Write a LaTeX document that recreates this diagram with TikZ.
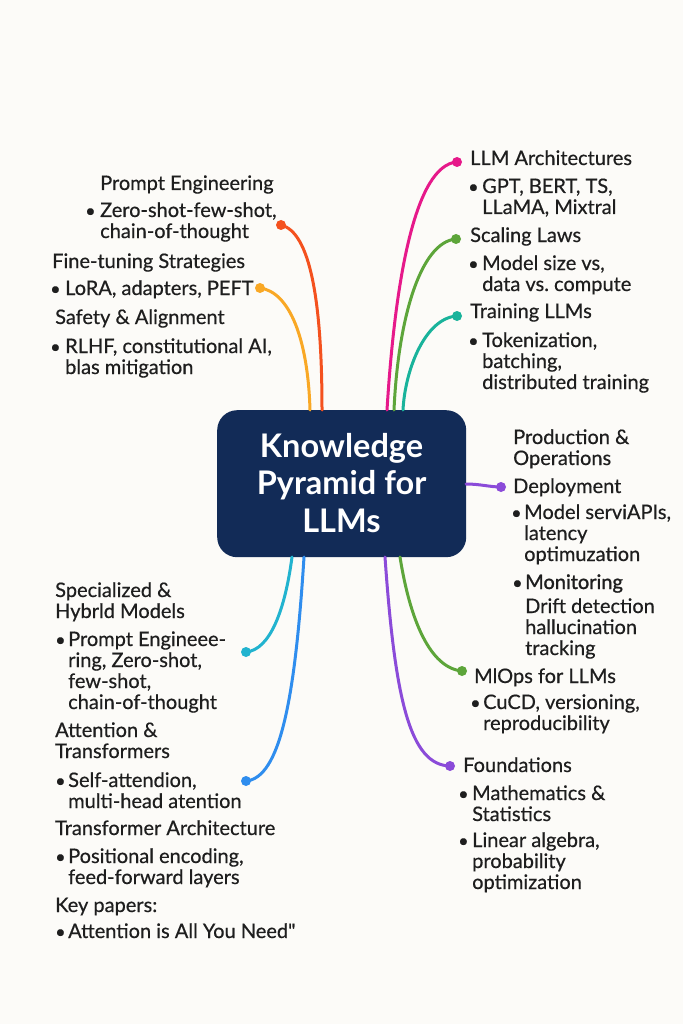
\documentclass[tikz,border=0pt]{standalone}
\usepackage{fontspec}
\setmainfont{Lato}[FakeBold=0.5,Ligatures=TeXOff]
\newfontfamily\titlefont{Lato}
\newfontfamily\heavyfont{Lato}[FakeBold=1.3]
\frenchspacing
\definecolor{bg}{HTML}{FCFBF8}
\definecolor{ink}{HTML}{1E1E1E}
\definecolor{navy}{HTML}{122B57}
\definecolor{cred}{HTML}{F4511E}
\definecolor{corange}{HTML}{F9A825}
\definecolor{cpink}{HTML}{E6198A}
\definecolor{cgreen}{HTML}{5DA53A}
\definecolor{cteal}{HTML}{19B39B}
\definecolor{cpurple}{HTML}{8B4BD9}
\definecolor{ccyan}{HTML}{22B3CF}
\definecolor{cblue}{HTML}{2F8DEE}
\newcommand\ml[1]{\vtop{\baselineskip=21pt\lineskiplimit=-20pt\halign{##\hfil\cr#1\crcr}}}
\begin{document}
\begin{tikzpicture}[x=1pt,y=-1pt,
  txt/.style={anchor=base west,inner sep=0pt,font=\fontsize{20}{21}\selectfont,text=ink},
  bul/.style={anchor=base west,inner sep=0pt,font=\fontsize{18}{21}\selectfont,text=ink},
  ttl/.style={anchor=base,inner sep=0pt,font=\titlefont\fontsize{32.5}{36}\selectfont\bfseries,text=white},
  dot/.style={circle,fill=#1,inner sep=0pt,minimum size=10pt},
  link/.style={draw=#1,line width=3pt,line cap=round}]
\fill[bg] (0,0) rectangle (683,1024);
\useasboundingbox (0,0) rectangle (683,1024);

% central box
\node[fill=navy,rounded corners=20pt,minimum width=249pt,minimum height=147pt,anchor=north west,inner sep=0pt] (box) at (217,410) {};
\node[ttl] (t1) at (341.5,457) {Knowledge};
\node[ttl] (t2) at (341.5,494) {Pyramid for};
\node[ttl] (t3) at (341.5,532) {LLMs};

% attachment points on the box
\coordinate (bRed) at (322,410);
\coordinate (bOrange) at (310,410);
\coordinate (bPink) at (387,410);
\coordinate (bGreen) at (394,410);
\coordinate (bTeal) at (403,410);
\coordinate (bPurR) at (466,484);
\coordinate (bGreenL) at (400,557);
\coordinate (bPurL) at (385,557);
\coordinate (bCyan) at (292,557);
\coordinate (bBlue) at (304,557);

% dots
\node[dot=cred] (dRed) at (281,225) {};
\node[dot=corange] (dOrange) at (260,288) {};
\node[dot=cpink] (dPink) at (457,162) {};
\node[dot=cgreen] (dGreen) at (456,239) {};
\node[dot=cteal] (dTeal) at (457,316) {};
\node[dot=cpurple] (dPurR) at (501,487) {};
\node[dot=cgreen] (dGreenL) at (462,671) {};
\node[dot=cpurple] (dPurL) at (450,766) {};
\node[dot=ccyan] (dCyan) at (246,652) {};
\node[dot=cblue] (dBlue) at (246,781) {};

% connectors
\draw[link=cred] (dRed.center) .. controls (310,232) and (322,300) .. (bRed);
\draw[link=corange] (dOrange.center) .. controls (290,292) and (308,340) .. (bOrange);
\draw[link=cpink] (dPink.center) .. controls (415,165) and (395,280) .. (bPink);
\draw[link=cgreen] (dGreen.center) .. controls (420,242) and (398,320) .. (bGreen);
\draw[link=cteal] (dTeal.center) .. controls (425,318) and (405,370) .. (bTeal);
\draw[link=cpurple] (bPurR) .. controls (480,484) and (490,487) .. (dPurR.center);
\draw[link=cgreen] (bGreenL) .. controls (410,620) and (430,668) .. (dGreenL.center);
\draw[link=cpurple] (bPurL) .. controls (395,700) and (410,765) .. (dPurL.center);
\draw[link=ccyan] (bCyan) .. controls (285,610) and (270,650) .. (dCyan.center);
\draw[link=cblue] (bBlue) .. controls (295,700) and (280,778) .. (dBlue.center);

% left top
\node[txt] (pe) at (100,190) {Prompt Engineering};
\node[bul] (peb) at (85,217) {•};
\node[txt] (pet) at (100,217) {\ml{Zero-shot-few-shot,\cr chain-of-thought}};
\node[txt] (ft) at (52,268) {Fine-tuning Strategies};
\node[bul] (ftb) at (50,295) {•};
\node[txt] (ftt) at (65,295) {LoRA, adapters, PEFT};
\node[txt] (sa) at (55,324) {Safety \& Alignment};
\node[bul] (sab) at (50,353) {•};
\node[txt] (sat) at (65,353) {\ml{RLHF, constitutional AI,\cr blas mitigation}};

% right top
\node[txt] (la) at (470,165) {LLM Architectures};
\node[bul] (lab) at (468,193) {•};
\node[txt] (lat) at (482,193) {\ml{GPT, BERT, TS,\cr LLaMA, Mixtral}};
\node[txt] (sl) at (470,242) {Scaling Laws};
\node[bul] (slb) at (468,270) {•};
\node[txt] (slt) at (482,270) {\ml{Model size vs,\cr data vs. compute}};
\node[txt] (tl) at (470,318) {Training LLMs};
\node[bul] (tlb) at (468,347) {•};
\node[txt] (tlt) at (482,347) {\ml{Tokenization,\cr batching,\cr distributed training}};

% right middle
\node[txt] (po) at (513,444) {\ml{Production \&\cr Operations}};
\node[txt] (dp) at (513,493) {Deployment};
\node[bul] (dpb) at (511,519) {•};
\node[txt] (dpt) at (524,519) {\ml{Model serviAPIs,\cr latency\cr optimuzation}};
\node[bul] (mob) at (512,589) {•};
\node[txt,font=\heavyfont\fontsize{20}{21}\selectfont] (mo) at (525,589) {Monitoring};
\node[txt] (mot) at (525,613) {\ml{Drift detection\cr hallucination\cr tracking}};
\node[txt] (ml) at (474,683) {MlOps for LLMs};
\node[bul] (mlb) at (470,709) {•};
\node[txt] (mlt) at (483,709) {\ml{CuCD, versioning,\cr reproducibility}};
\node[txt] (fo) at (463,772) {Foundations};
\node[bul] (fob1) at (458,800) {•};
\node[txt] (fot1) at (472,800) {\ml{Mathematics \&\cr Statistics}};
\node[bul] (fob2) at (458,847) {•};
\node[txt] (fot2) at (472,847) {\ml{Linear algebra,\cr probability\cr optimization}};

% left lower
\node[txt] (sh) at (55,597) {\ml{Specialized \&\cr Hybrld Models}};
\node[bul] (shb) at (55,646) {•};
\node[txt] (sht) at (68,646) {\ml{Prompt Engineee-\cr ring, Zero-shot,\cr few-shot,\cr chain-of-thought}};
\node[txt] (at) at (55,737) {\ml{Attention \&\cr Transformers}};
\node[bul] (atb) at (55,787) {•};
\node[txt] (att) at (68,787) {\ml{Self-attendion,\cr multi-head atention}};
\node[txt] (ta) at (55,835) {Transformer Architecture};
\node[bul] (tab) at (55,863) {•};
\node[txt] (tat) at (68,863) {\ml{Positional encoding,\cr feed-forward layers}};
\node[txt] (kp) at (55,912) {Key papers:};
\node[bul] (kpb) at (55,938) {•};
\node[txt] (kpt) at (68,938) {Attention is All You Need"};
\end{tikzpicture}
\end{document}
